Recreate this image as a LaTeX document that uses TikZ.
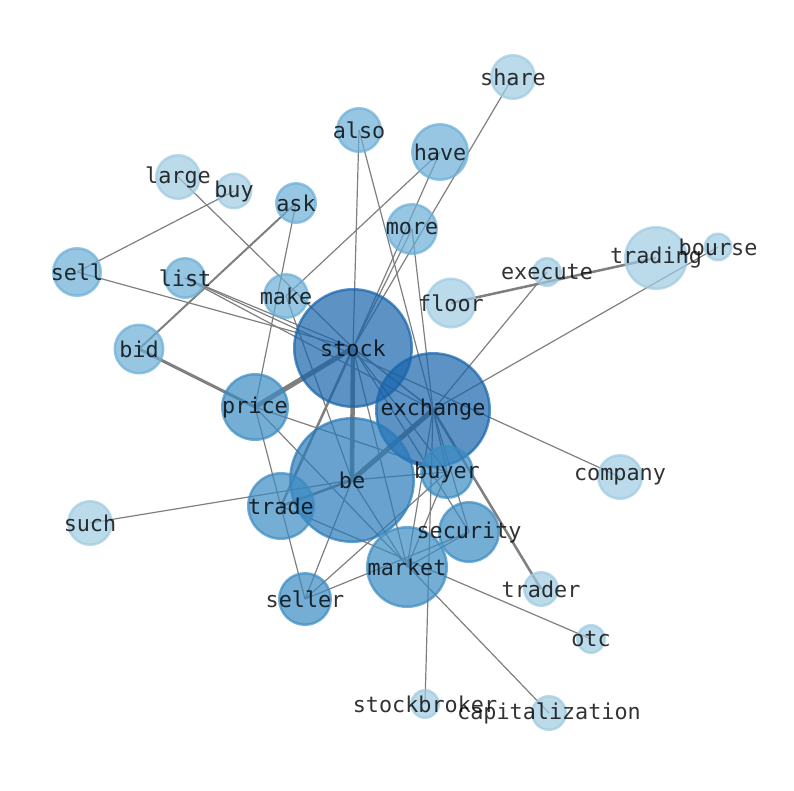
\documentclass[tikz,border=0pt]{standalone}
\usepackage{fontspec}
\newfontfamily\monof{DejaVu Sans Mono}
\pgfdeclarelayer{background}
\pgfsetlayers{background,main}
\definecolor{cL}{HTML}{9ECAE1}
\definecolor{cML}{HTML}{6BAED6}
\definecolor{cM}{HTML}{3B8BC2}
\definecolor{cB}{HTML}{2A7AB9}
\definecolor{cD}{HTML}{1764AB}
\definecolor{edgec}{HTML}{7F7F7F}
\tikzset{
  nd/.style={circle, inner sep=0pt, line width=2.5pt, fill opacity=0.7, draw opacity=0.7},
  nL/.style={nd, fill=cL, draw=cL},
  nML/.style={nd, fill=cML, draw=cML},
  nM/.style={nd, fill=cM, draw=cM},
  nB/.style={nd, fill=cB, draw=cB},
  nD/.style={nd, fill=cD, draw=cD},
  lbl/.style={inner sep=0pt, text=black, text opacity=0.8, font=\monof\fontsize{21.8}{24}\selectfont},
  ed/.style={draw=edgec, line width=1.2pt},
  edw/.style={draw=edgec, line width=#1},
}
\newcommand{\nodeR}[4]{\node[#1, minimum size={2*#4-2.5pt}] (#2) at #3 {};}
\begin{document}
\begin{tikzpicture}[x=1pt,y=-1pt]
\useasboundingbox (0,0) rectangle (794,790);
% nodes
\nodeR{nL}{share}{(513,77)}{23}
\nodeR{nML}{also}{(359,130)}{23}
\nodeR{nML}{have}{(440,152)}{29}
\nodeR{nL}{large}{(178,177)}{23}
\nodeR{nL}{buy}{(234,191)}{18.5}
\nodeR{nML}{ask}{(296,203)}{21}
\nodeR{nML}{more}{(412,229)}{26}
\nodeR{nML}{sell}{(77,272)}{25}
\nodeR{nML}{list}{(185,278)}{21}
\nodeR{nML}{make}{(286,296)}{23}
\nodeR{nL}{execute}{(547,272)}{15}
\nodeR{nL}{trading}{(656,258)}{32}
\nodeR{nL}{bourse}{(718,247)}{14.5}
\nodeR{nL}{floor}{(451,303)}{25.5}
\nodeR{nML}{bid}{(139,349)}{25.5}
\nodeR{nD}{stock}{(353,348)}{60}
\nodeR{nM}{price}{(255,407)}{34}
\nodeR{nD}{exchange}{(433,410)}{58}
\nodeR{nL}{company}{(620,477)}{23}
\nodeR{nB}{be}{(352,480)}{63}
\nodeR{nM}{buyer}{(447,472)}{27}
\nodeR{nM}{trade}{(281,506)}{34}
\nodeR{nL}{such}{(90,523)}{23}
\nodeR{nM}{security}{(469,532)}{31}
\nodeR{nM}{market}{(407,567)}{41}
\nodeR{nM}{seller}{(305,599)}{27}
\nodeR{nL}{trader}{(541,589)}{18}
\nodeR{nL}{otc}{(591,639)}{15}
\nodeR{nL}{stockbroker}{(425,704)}{15}
\nodeR{nL}{capitalization}{(549,713)}{18}
% edges
\begin{pgfonlayer}{background}
\foreach \a/\b in {share/stock, also/stock, also/exchange, have/make, have/stock,
  more/stock, more/exchange, large/stock, buy/sell, sell/stock, list/stock,
  list/company, list/exchange, ask/price, make/be, execute/exchange, bourse/exchange,
  price/buyer, price/seller, price/capitalization, such/be, be/buyer, be/seller, be/market,
  stock/market, stock/security, exchange/market, exchange/stockbroker,
  exchange/security, seller/buyer, seller/security,
  trade/otc, market/security, buyer/market, stock/buyer, exchange/buyer}
  {\draw[ed] (\a.center) -- (\b.center);}
\draw[edw=5pt] (price.center) -- (stock.center);
\draw[edw=3pt] (bid.center) -- (price.center);
\draw[edw=2pt] (ask.center) -- (bid.center);
\draw[edw=4.5pt] (stock.center) -- (be.center);
\draw[edw=5pt] (exchange.center) -- (be.center);
\draw[edw=2.5pt] (stock.center) -- (trade.center);
\draw[edw=2.5pt] (floor.center) -- (trading.center);
\draw[edw=2.5pt] (exchange.center) -- (trader.center);
\draw[edw=2.5pt] (trade.center) -- (be.center);
\draw[edw=1.6pt] (stock.center) -- (exchange.center);
\end{pgfonlayer}
% labels
\foreach \n in {share, also, have, large, buy, ask, more, sell, list, make, execute,
  trading, bourse, floor, bid, stock, price, exchange, company, be, buyer, trade,
  such, security, market, seller, trader, otc, stockbroker, capitalization}
  {\node[lbl] (t\n) at (\n.center) {\n};}
\end{tikzpicture}
\end{document}
